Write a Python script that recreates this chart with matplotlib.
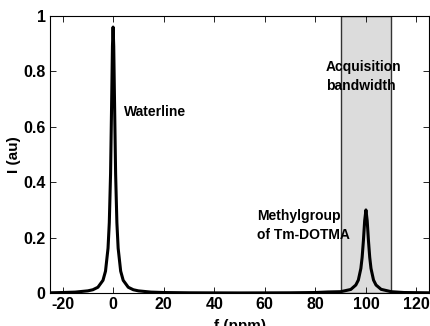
import matplotlib.pyplot as plt

plt.rcParams['axes.unicode_minus'] = False

# spectrum (ppm, intensity)
ppm = [-25, -20, -15, -10, -8, -6, -4, -3, -2, -1.5, -1, -0.5, -0.25, 0,
       0.25, 0.5, 1, 1.5, 2, 3, 4, 6, 8, 10, 15, 20, 30, 50, 70, 80, 85,
       90, 94, 96, 97, 98, 98.5, 99, 99.5, 100, 100.5, 101, 101.5, 102,
       103, 104, 106, 110, 115, 125]
intensity = [0.001, 0.002, 0.0035, 0.008, 0.012, 0.021, 0.046, 0.079, 0.162,
             0.254, 0.43, 0.733, 0.891, 0.96, 0.891, 0.733, 0.43, 0.254,
             0.162, 0.079, 0.046, 0.021, 0.012, 0.008, 0.0035, 0.002, 0.001,
             0.0005, 0.001, 0.002, 0.004, 0.005, 0.013, 0.029, 0.047, 0.089,
             0.129, 0.189, 0.261, 0.30, 0.261, 0.189, 0.129, 0.089, 0.047,
             0.029, 0.0135, 0.005, 0.002, 0.001]

band = [90, 110]

bold = dict(family='Liberation Sans', fontweight='bold')

fig = plt.figure(figsize=(4.3, 3.26), dpi=100)
ax = fig.add_axes([0.116, 0.101, 0.882, 0.85])

ax.axvspan(band[0], band[1], facecolor='#dcdcdc', edgecolor='#333333', lw=1, zorder=1)
ax.plot(ppm, intensity, color='black', lw=2.2, zorder=3)

ax.set_xlim(-25, 125)
ax.set_ylim(0, 1)
ax.set_xticks(range(-20, 121, 20))
ax.set_yticks([0, 0.2, 0.4, 0.6, 0.8, 1])
ax.set_yticklabels(['0', '0.2', '0.4', '0.6', '0.8', '1'])
ax.tick_params(direction='in', top=True, right=True, length=4, width=0.6, pad=3)
for lab in ax.get_xticklabels() + ax.get_yticklabels():
    lab.set_fontsize(11.5)
    lab.set_fontfamily('Liberation Sans')
    lab.set_fontweight('bold')
for s in ax.spines.values():
    s.set_linewidth(0.8)

ax.set_xlabel('f (ppm)', fontsize=11, labelpad=5, **bold)
ax.set_ylabel('I (au)', fontsize=11, labelpad=2, **bold)

ax.text(4.3, 0.653, 'Waterline', fontsize=10, va='center', **bold, zorder=4)
ax.text(84.2, 0.78, 'Acquisition\nbandwidth', fontsize=10, va='center', linespacing=1.45, **bold, zorder=4)
ax.text(57, 0.243, 'Methylgroup\nof Tm-DOTMA', fontsize=10, va='center', linespacing=1.45, **bold, zorder=4)

fig.savefig('out.png', dpi=100)
